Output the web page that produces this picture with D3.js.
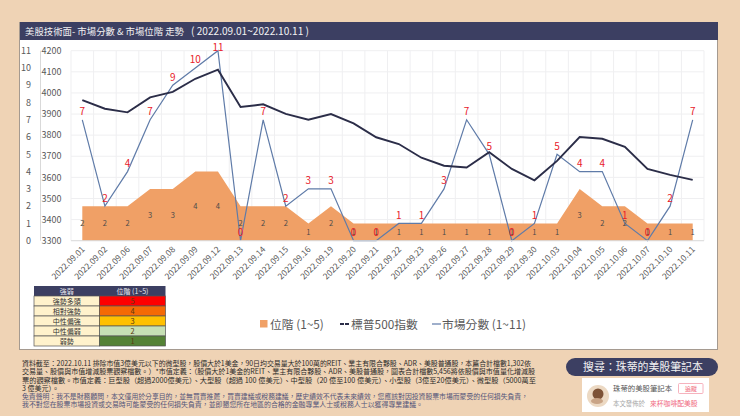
<!DOCTYPE html>
<html><head><meta charset="utf-8">
<script src="https://cdn.jsdelivr.net/npm/d3@7/dist/d3.min.js"></script>
<style>html,body{margin:0;padding:0;background:#efd3b5}svg{display:block}text{font-family:"Noto Sans CJK TC","Noto Sans",sans-serif}</style>
</head><body><svg id="c" width="740" height="416"></svg>
<script>
const dates=["2022.09.01","2022.09.02","2022.09.06","2022.09.07","2022.09.08","2022.09.09","2022.09.12","2022.09.13","2022.09.14","2022.09.15","2022.09.16","2022.09.19","2022.09.20","2022.09.21","2022.09.22","2022.09.23","2022.09.26","2022.09.27","2022.09.28","2022.09.29","2022.09.30","2022.10.03","2022.10.04","2022.10.05","2022.10.06","2022.10.07","2022.10.10","2022.10.11"];
const level=[2,2,2,3,3,4,4,2,2,2,1,2,1,1,1,1,1,1,1,1,1,1,3,2,2,1,1,1];
const score=[7,2,4,7,9,10,11,0,7,2,3,3,0,0,1,1,3,7,5,0,1,5,4,4,1,0,2,7];
const spx=[3966,3925,3908,3979,4005,4067,4110,3933,3946,3901,3873,3900,3856,3790,3758,3693,3655,3647,3719,3640,3586,3678,3791,3783,3745,3640,3612,3588];
const spTicks=[3300,3400,3500,3600,3700,3800,3900,4000,4100,4200];
const scoreTicks=[0,1,2,3,4,5,6,7,8,9,10,11];
const titleMain="美股技術面- 市場分數 & 市場位階 走勢";
const titleRange="( 2022.09.01~2022.10.11 )";
const tableHead=["強弱","位階 (1~5)"];
const tableNames=["強勢多頭","相對強勢","中性偏強","中性偏弱","弱勢"];
const tableVals=[5,4,3,2,1];
const tableColors=["#fe0000","#f56a05","#ffc000","#c6e0b4","#548235"];
const footLines=["資料截至：2022.10.11 排除市值3億美元以下的微型股，股價大於1美金，90日均交易量大於100萬的REIT、業主有限合夥股、ADR、美股普通股，本篇合計檔數1,302依","交易量、股價與市值增減股票觀察檔數。）*市值定義：（股價大於1美金的REIT、業主有限合夥股、ADR、美股普通股，圖表合計檔數5,456將依股價與市值量化增減股","票的觀察檔數。市值定義：巨型股（超過2000億美元）、大型股（超過 100 億美元）、中型股（20 億至100 億美元）、小型股（3億至20億美元）、微型股（5000萬至","3 億美元）。"];
const footWidths=[509,513,514,37];
const discLines=["免責聲明：我不是財務顧問，本文僅用於分享目的，並無買賣推薦，買賣建議或稅務建議，歷史績效不代表未來績效，您應該對因投資股票市場而蒙受的任何損失負責，","我不對您在股票市場投資或交易時可能蒙受的任何損失負責，並即懇您所在地區的合格的金融專業人士或稅務人士以獲得專業建議。"];
const discWidths=[506,401];

const svg=d3.select("#c");
svg.append("rect").attr("width",740).attr("height",416).attr("fill","#efd3b5");
svg.append("rect").attr("x",19.5).attr("y",22.5).attr("width",698).attr("height",327).attr("fill","#fff").attr("stroke","#a59a90");
svg.append("rect").attr("x",20).attr("y",22).attr("width",698).attr("height",18).attr("fill","#3c3f62");
svg.append("text").attr("x",25).attr("y",35).attr("fill","#f2f2f2").attr("font-size",9.3).attr("textLength",159).attr("lengthAdjust","spacingAndGlyphs").text(titleMain);
svg.append("text").attr("x",191).attr("y",35).attr("fill","#f2f2f2").attr("font-size",10.5).attr("textLength",118).attr("lengthAdjust","spacingAndGlyphs").text(titleRange);

const x=d3.scalePoint().domain(dates).range([71,704]).padding(.5);
const yS=d3.scaleLinear().domain([3300,4200]).range([240.7,50.7]);
const yL=d3.scaleLinear().domain([0,11]).range([240.7,50.7]);
const step=x.step();
const g=svg.append("g");
g.selectAll("line.h").data(spTicks).join("line").attr("x1",71).attr("x2",704).attr("y1",d=>yS(d)).attr("y2",d=>yS(d)).attr("stroke","#efeff1");
d3.range(29).forEach(i=>g.append("line").attr("x1",71+i*step).attr("x2",71+i*step).attr("y1",50.7).attr("y2",240.7).attr("stroke","#efeff1"));
g.append("path").datum(level).attr("fill","#f0a066").attr("d",d3.area().x((d,i)=>x(dates[i])).y0(yL(0)).y1(d=>yL(d)));
g.append("path").datum(score).attr("fill","none").attr("stroke","#5f7ba8").attr("stroke-width",1.2).attr("d",d3.line().x((d,i)=>x(dates[i])).y(d=>yL(d)));
g.append("path").datum(spx).attr("fill","none").attr("stroke","#2b2d48").attr("stroke-width",1.9).attr("d",d3.line().x((d,i)=>x(dates[i])).y(d=>yS(d)));
g.append("line").attr("x1",40.5).attr("x2",40.5).attr("y1",50.7).attr("y2",240.7).attr("stroke","#d9d9d9");
g.append("line").attr("x1",71).attr("x2",704).attr("y1",240.7).attr("y2",240.7).attr("stroke","#dcdcdc");
g.selectAll("text.sp").data(spTicks).join("text").attr("x",61.5).attr("y",d=>yS(d)+3.2).attr("text-anchor","end").attr("font-size",9).attr("fill","#595959").text(d=>d);
g.selectAll("text.sc").data(scoreTicks).join("text").attr("x",31).attr("y",d=>yL(d)+3.2).attr("text-anchor","end").attr("font-size",9).attr("fill","#595959").text(d=>d);
g.selectAll("text.dt").data(dates).join("text").attr("font-size",8.5).attr("fill","#595959").attr("text-anchor","end")
 .attr("transform",d=>`translate(${x(d)+3},${250}) rotate(-45)`).text(d=>d);
g.selectAll("text.lv").data(level).join("text").attr("x",(d,i)=>x(dates[i])).attr("y",d=>yL(d/2)+3).attr("text-anchor","middle").attr("font-size",7.5).attr("fill","#4a4a4a").text(d=>d);
g.selectAll("text.sl").data(score).join("text").attr("x",(d,i)=>x(dates[i])).attr("y",d=>Math.max(yL(d)-4.5,51)).attr("text-anchor","middle").attr("font-size",10).attr("fill","#e8212a").text(d=>d);
const tx=34,tw1=65.5,tw2=66,ty=286,th=10;
svg.append("rect").attr("x",tx).attr("y",ty).attr("width",tw1+tw2).attr("height",th).attr("fill","#3c3f62");
tableHead.forEach((t,i)=>svg.append("text").attr("x",i?tx+tw1+tw2/2:tx+tw1/2).attr("y",ty+8).attr("text-anchor","middle").attr("font-size",7).attr("fill","#e8e8ee").text(t));
tableNames.forEach((n,i)=>{const yy=ty+th+i*th;
 svg.append("rect").attr("x",tx).attr("y",yy).attr("width",tw1).attr("height",th).attr("fill","#fff2cc").attr("stroke","#555").attr("stroke-width",.7);
 svg.append("rect").attr("x",tx+tw1).attr("y",yy).attr("width",tw2).attr("height",th).attr("fill",tableColors[i]).attr("stroke","#555").attr("stroke-width",.7);
 svg.append("text").attr("x",tx+tw1/2).attr("y",yy+8).attr("text-anchor","middle").attr("font-size",7).attr("fill","#333").text(n);
 svg.append("text").attr("x",tx+tw1+tw2/2).attr("y",yy+8).attr("text-anchor","middle").attr("font-size",7.5).attr("fill","#5a3a10").text(tableVals[i]);
});
const lg=svg.append("g").attr("font-size",11.8).attr("fill","#595959");
lg.append("rect").attr("x",260).attr("y",320).attr("width",7.5).attr("height",7.5).attr("fill","#f0a066");
lg.append("text").attr("x",270).attr("y",328.5).text("位階 (1~5)");
lg.append("line").attr("x1",340).attr("x2",349).attr("y1",324).attr("y2",324).attr("stroke","#2b2d48").attr("stroke-width",2).attr("stroke-dasharray","4 1");
lg.append("text").attr("x",351).attr("y",328.5).text("標普500指數");
lg.append("line").attr("x1",432).attr("x2",441).attr("y1",324).attr("y2",324).attr("stroke","#5f7ba8").attr("stroke-width",1.2);
lg.append("text").attr("x",442).attr("y",328.5).text("市場分數 (1~11)");
footLines.forEach((t,i)=>svg.append("text").attr("x",22).attr("y",366+i*8.3).attr("font-size",7).attr("fill","#2a2a2a").attr("textLength",footWidths[i]).attr("lengthAdjust","spacingAndGlyphs").text(t));
discLines.forEach((t,i)=>svg.append("text").attr("x",22).attr("y",399+i*8.2).attr("font-size",7).attr("fill","#54557a").attr("textLength",discWidths[i]).attr("lengthAdjust","spacingAndGlyphs").text(t));
svg.append("rect").attr("x",566).attr("y",358).attr("width",152).attr("height",18).attr("rx",9).attr("fill","#3c3f62");
svg.append("text").attr("x",643).attr("y",371).attr("text-anchor","middle").attr("font-size",10.9).attr("fill","#f2f2f2").text("搜尋：珠蒂的美股筆記本");
svg.append("rect").attr("x",582).attr("y",378).attr("width",127).attr("height",34).attr("fill","#fff");
svg.append("circle").attr("cx",598).attr("cy",396).attr("r",11).attr("fill","#ecd9c3");
svg.append("circle").attr("cx",598).attr("cy",394).attr("r",5.5).attr("fill","#7d5236");
svg.append("ellipse").attr("cx",597).attr("cy",401).attr("rx",6).attr("ry",3).attr("fill","#c9a486");
svg.append("text").attr("x",613).attr("y",391).attr("font-size",7.4).attr("fill","#555").text("珠蒂的美股筆記本");
svg.append("rect").attr("x",678.5).attr("y",383.5).attr("width",24.5).attr("height",10).attr("rx",1).attr("fill","#fff").attr("stroke","#f4a0ad").attr("stroke-width",.8);
svg.append("text").attr("x",691).attr("y",391).attr("text-anchor","middle").attr("font-size",6).attr("fill","#ee6677").text("追蹤");
svg.append("text").attr("x",613).attr("y",405.5).attr("font-size",6.4).attr("fill","#a8a8a8").text("本文發佈於");
svg.append("text").attr("x",650).attr("y",405.5).attr("font-size",6.8).attr("fill","#f06a80").text("來杯咖啡配美股");
</script></body></html>
